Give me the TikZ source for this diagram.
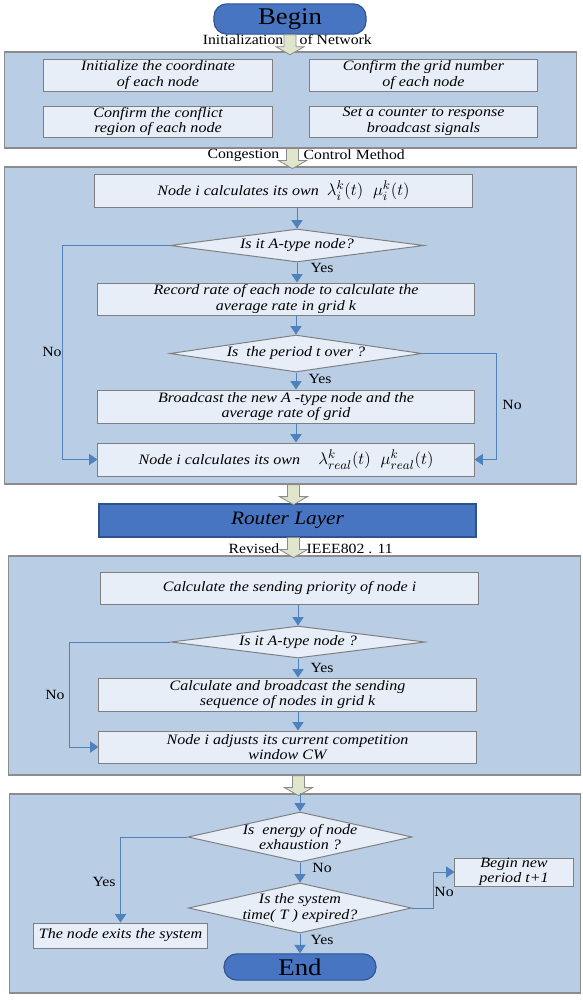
\documentclass[tikz,border=0pt]{standalone}
\usepackage{fontspec}
\setmainfont{Liberation Serif}[FakeStretch=1.12]
\usepackage{amsmath}
\usetikzlibrary{calc,shapes.geometric,arrows.meta}

\definecolor{panelblue}{HTML}{B9CDE5}
\definecolor{panelline}{HTML}{8C8C8C}
\definecolor{boxfill}{HTML}{E8EEF8}
\definecolor{boxline}{HTML}{7F7F7F}
\definecolor{termblue}{HTML}{4775C2}
\definecolor{termline}{HTML}{2F528F}
\definecolor{flowblue}{HTML}{4F81BD}
\definecolor{arrfill}{HTML}{E0E6CB}
\definecolor{arrline}{HTML}{8C8C8C}

\newcommand{\boxfont}{\fontsize{10.2}{11}\selectfont\itshape}
\newcommand{\mathbig}{\fontsize{12.5}{13}\selectfont}

\tikzset{
    panel/.style={draw=panelline, fill=panelblue, line width=0.8pt, inner sep=0pt},
    stepbox/.style={draw=boxline, fill=boxfill, line width=0.7pt, align=center, inner sep=0pt, font=\boxfont},
    decision/.style={diamond, draw=boxline, fill=boxfill, line width=0.7pt, inner sep=0pt},
    dectext/.style={align=center, inner sep=0pt, font=\boxfont},
    terminal/.style={rectangle, rounded corners=0.32cm, draw=termline, fill=termblue, line width=0.8pt,
                     minimum width=3.8cm, minimum height=0.65cm, font=\fontsize{17}{19}\selectfont},
    flow/.style={draw=flowblue, line width=0.7pt, -{Triangle[width=8pt,length=6pt]}},
    lbl/.style={font=\fontsize{10}{12}\selectfont, inner sep=1pt},
    hollowarr/.style={draw=arrline, fill=arrfill, line width=0.6pt},
    hollow/.pic={
        \draw[hollowarr] (-6,0) -- (6,0) -- (6,12) -- (14,12) -- (0,20) -- (-14,12) -- (-6,12) -- cycle;
    }
}

\begin{document}
\begin{tikzpicture}[x=0.025cm,y=-0.025cm]
                \useasboundingbox (0,0) rectangle (583,1000);

                % begin and initialization
                \node[terminal] (begin) at (290,19) {Begin};
                \node[panel, minimum width=14.275cm, minimum height=2.4cm] (p1) at (290.5,100) {};
                \node[stepbox, minimum width=5.7cm, minimum height=0.8cm] (b11) at (158,75) {Initialize the coordinate\\of each node};
                \node[stepbox, minimum width=5.675cm, minimum height=0.8cm] (b12) at (423.5,75) {Confirm the grid number\\of each node};
                \node[stepbox, minimum width=5.7cm, minimum height=0.775cm] (b13) at (158,121.5) {Confirm the conflict\\region of each node};
                \node[stepbox, minimum width=5.675cm, minimum height=0.775cm] (b14) at (423.5,121.5) {Set a counter to response\\broadcast signals};
                \pic at (begin.south) {hollow};
                \node[lbl, anchor=east] (init1) at (285,40) {Initialization};
                \node[lbl, anchor=west] (init2) at (298,40) {of Network};

                % congestion control
                \node[panel, minimum width=14.275cm, minimum height=7.925cm] (p2) at (290.5,325.5) {};
                \pic at ($(p1.south)+(2,0)$) {hollow};
                \node[lbl, anchor=east] (cong1) at (281,155) {Congestion};
                \node[lbl, anchor=west] (cong2) at (302,155) {Control Method};
                \node[stepbox, minimum width=9.425cm, minimum height=0.825cm] (n1) at (283.5,190.5) {Node i calculates its own \ {\mathbig$\lambda_i^k(t)\ \ \mu_i^k(t)$}};
                \node[decision, minimum width=6.35cm, minimum height=0.825cm] (d1) at (297,245.5) {};
                \node[dectext] (d1t) at (d1) {Is it A-type node?};
                \node[stepbox, minimum width=9.4cm, minimum height=0.8cm] (n2) at (286,299) {Record rate of each node to calculate the\\average rate in grid k};
                \node[decision, minimum width=6.3cm, minimum height=0.925cm] (d2) at (296,353.5) {};
                \node[dectext] (d2t) at (d2) {Is \ the period t over ?};
                \node[stepbox, minimum width=9.4cm, minimum height=0.825cm] (n3) at (286,406.5) {Broadcast the new A -type node and the\\average rate of grid};
                \node[stepbox, minimum width=9.4cm, minimum height=0.825cm] (n4) at (286,459.5) {Node i calculates its own \quad {\mathbig$\lambda_{real}^k(t)\ \ \mu_{real}^k(t)$}};

                \draw[flow] (d1.north |- n1.south) -- (d1.north);
                \draw[flow] (d1.south) -- (d1.south |- n2.north);
                \draw[flow] (d2.north |- n2.south) -- (d2.north);
                \draw[flow] (d2.south) -- (d2.south |- n3.north);
                \draw[flow] (d2.south |- n3.south) -- (d2.south |- n4.north);
                \draw[flow] (d1.west) -- ++(-107,0) |- (n4.west);
                \draw[flow] (d2.east) -- ++(74,0) |- (n4.east);
                \node[lbl] (yes1) at (322,268) {Yes};
                \node[lbl] (yes2) at (320,379) {Yes};
                \node[lbl] (no1) at (52,352) {No};
                \node[lbl] (no2) at (512,405) {No};

                % router layer
                \node[rectangle, draw=termline, fill=termblue, line width=0.8pt, minimum width=9.425cm, minimum height=0.825cm,
                      font=\fontsize{13.5}{15}\selectfont\itshape] (router) at (287.5,520.5) {Router Layer};
                \pic at ($(p2.south)+(3,0)$) {hollow};

                % revised IEEE802.11
                \node[panel, minimum width=14.275cm, minimum height=5.475cm] (p3) at (294.5,665.5) {};
                \pic at ($(router.south)+(6,0)$) {hollow};
                \node[lbl, anchor=east] (rev1) at (281,549) {Revised};
                \node[lbl, anchor=west] (rev2) at (305,549) {IEEE802 . 11};
                \node[stepbox, minimum width=9.425cm, minimum height=0.8cm] (m1) at (289.5,588) {Calculate the sending priority of node i};
                \node[decision, minimum width=6.35cm, minimum height=0.8cm] (d3) at (298,642) {};
                \node[dectext] (d3t) at (d3) {Is it A-type node ?};
                \node[stepbox, minimum width=9.425cm, minimum height=0.825cm] (m2) at (287.5,694.5) {Calculate and broadcast the sending\\sequence of nodes in grid k};
                \node[stepbox, minimum width=9.425cm, minimum height=0.8cm] (m3) at (287.5,747) {Node i adjusts its current competition\\window CW};

                \draw[flow] (d3.north |- m1.south) -- (d3.north);
                \draw[flow] (d3.south) -- (d3.south |- m2.north);
                \draw[flow] (d3.south |- m2.south) -- (d3.south |- m3.north);
                \draw[flow] (d3.west) -- ++(-101,0) |- (m3.west);
                \node[lbl] (yes3) at (322,668) {Yes};
                \node[lbl] (no3) at (55,695) {No};

                % energy and end
                \node[panel, minimum width=14.25cm, minimum height=4.975cm] (p4) at (295,893.5) {};
                \pic at ($(p3.south)+(4,0)$) {hollow};
                \node[decision, minimum width=5.6cm, minimum height=1.25cm] (d4) at (300,837) {};
                \node[dectext] (d4t) at (d4) {Is \ energy of node\\exhaustion ?};
                \node[decision, minimum width=5.575cm, minimum height=1.25cm] (d5) at (300,908) {};
                \node[dectext] (d5t) at (d5) {Is the system\\time( T ) expired?};
                \node[stepbox, minimum width=4.325cm, minimum height=0.625cm] (exit) at (120.5,935.5) {The node exits the system};
                \node[stepbox, minimum width=2.95cm, minimum height=0.65cm] (newp) at (514,872) {Begin new\\period t+1};
                \node[terminal] (end) at (300,967) {End};

                \draw[flow] (d4.north |- p4.north) -- (d4.north);
                \draw[flow] (d4.south) -- (d5.north);
                \draw[flow] (d4.west) -| (exit.north);
                \draw[flow] (d5.east) -- ++(21,0) |- (newp.west);
                \draw[flow] (d5.south) -- (end.north);
                \node[lbl] (yes4) at (104,882) {Yes};
                \node[lbl] (no4) at (322,868) {No};
                \node[lbl] (no5) at (444,892) {No};
                \node[lbl] (yes5) at (322,940) {Yes};
\end{tikzpicture}
\end{document}
